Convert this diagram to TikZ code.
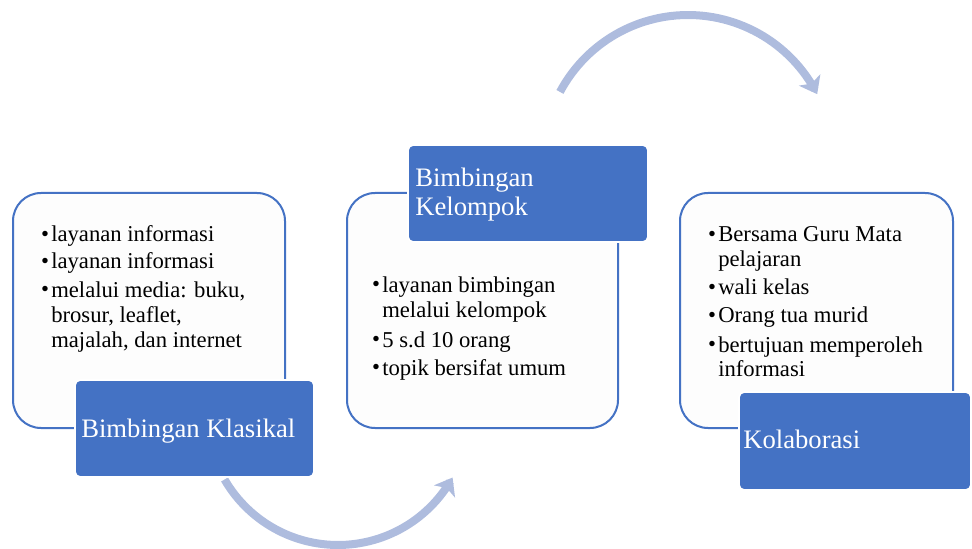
\documentclass[tikz,border=0pt]{standalone}
\usepackage{fontspec}
\setmainfont{Liberation Serif}
\usetikzlibrary{arrows.meta}
\definecolor{obl}{RGB}{68,114,196}
\definecolor{arr}{RGB}{174,188,222}
\definecolor{wfill}{RGB}{253,253,253}
\newcommand\bul{\llap{\raisebox{0.3pt}{\fontsize{17}{17}\selectfont •}\hspace{1.6pt}}}
\begin{document}
\begin{tikzpicture}[x=0.75pt,y=-0.75pt,
  whitebox/.style={draw=obl, line width=1.5pt, fill=wfill, rounded corners=21pt},
  bluebox/.style={draw=white, line width=1.2pt, fill=obl, rounded corners=4pt},
  titletext/.style={text=white, font=\fontsize{20}{22}\selectfont, inner sep=0pt, anchor=base west},
  itemtext/.style={font=\fontsize{17}{19}\selectfont, inner sep=0pt, anchor=base west},
  flow/.style={draw=arr, line width=6pt, -{Stealth[length=12pt,width=18pt,inset=3pt]}}]
\useasboundingbox (0,0) rectangle (972,549);

% arrows
\draw[flow] plot[domain=150:29, samples=60] ({338+131*cos(\x)},{414+131*sin(\x)});
\draw[flow] plot[domain=208:333, samples=60] ({688+145*cos(\x)},{160+145*sin(\x)});

% boxes
\draw[whitebox] (13,193) rectangle (285,428);
\draw[bluebox] (75,380) rectangle (314,477);
\draw[whitebox] (347,193) rectangle (618,428);
\draw[bluebox] (408,145) rectangle (648,242);
\draw[whitebox] (680,193) rectangle (953,428);
\draw[bluebox] (739,392) rectangle (971,490);

% titles
\node[titletext] (t1) at (81,437) {Bimbingan Klasikal};
\node[titletext] (t2a) at (415,187) {Bimbingan};
\node[titletext] (t2b) at (415,216) {Kelompok};
\node[titletext] (t3) at (743,448) {Kolaborasi};

% box 1 items
\node[itemtext] (a1) at (51,242) {\bul layanan informasi};
\node[itemtext] (a2) at (51,269) {\bul layanan informasi};
\node[itemtext] (a3) at (51,297) {\bul melalui media: buku,};
\node[itemtext] (a3b) at (51,322) {brosur, leaflet,};
\node[itemtext] (a3c) at (51,348) {majalah, dan internet};

% box 2 items
\node[itemtext] (b1) at (382,292) {\bul layanan bimbingan};
\node[itemtext] (b1b) at (382,318) {melalui kelompok};
\node[itemtext] (b2) at (382,347) {\bul 5 s.d 10 orang};
\node[itemtext] (b3) at (382,375) {\bul topik bersifat umum};

% box 3 items
\node[itemtext] (c1) at (718,242) {\bul Bersama Guru Mata};
\node[itemtext] (c1b) at (718,267) {pelajaran};
\node[itemtext] (c2) at (718,295) {\bul wali kelas};
\node[itemtext] (c3) at (718,323) {\bul Orang tua murid};
\node[itemtext] (c4) at (718,352) {\bul bertujuan memperoleh};
\node[itemtext] (c4b) at (718,377) {informasi};
\end{tikzpicture}
\end{document}
